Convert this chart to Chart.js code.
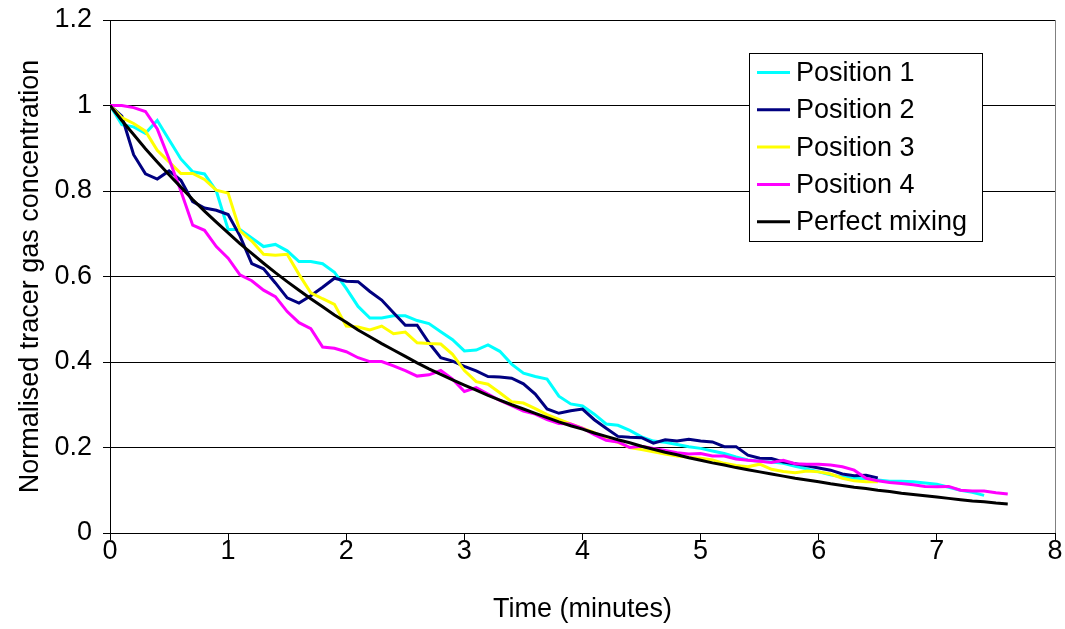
<!DOCTYPE html>
<html>
<head>
<meta charset="utf-8">
<script src="https://cdn.jsdelivr.net/npm/chart.js@4.4.1/dist/chart.umd.min.js"></script>
<style>
    html, body { margin: 0; padding: 0; background: #fff; }
    #wrap { width: 1065px; height: 629px; }
</style>
</head>
<body>
<div id="wrap"><canvas id="decayChart" width="1065" height="629"></canvas></div>
<script>
// Tracer gas decay - normalised concentration vs time

// sample times (minutes)
const times = [0, 0.1, 0.2, 0.3, 0.4, 0.5, 0.6, 0.7, 0.8, 0.9,
    1.0, 1.1, 1.2, 1.3, 1.4, 1.5, 1.6, 1.7, 1.8, 1.9,
    2.0, 2.1, 2.2, 2.3, 2.4, 2.5, 2.6, 2.7, 2.8, 2.9,
    3.0, 3.1, 3.2, 3.3, 3.4, 3.5, 3.6, 3.7, 3.8, 3.9,
    4.0, 4.1, 4.2, 4.3, 4.4, 4.5, 4.6, 4.7, 4.8, 4.9,
    5.0, 5.1, 5.2, 5.3, 5.4, 5.5, 5.6, 5.7, 5.8, 5.9,
    6.0, 6.1, 6.2, 6.3, 6.4, 6.5, 6.6, 6.7, 6.8, 6.9,
    7.0, 7.1, 7.2, 7.3, 7.4, 7.5, 7.6];

const position1 = [1.0, 0.955, 0.95, 0.935, 0.965, 0.92, 0.875, 0.845, 0.84, 0.80,
    0.71, 0.71, 0.69, 0.67, 0.675, 0.66, 0.635, 0.635, 0.63, 0.61,
    0.572, 0.53, 0.503, 0.503, 0.508, 0.508, 0.497, 0.49, 0.471, 0.452,
    0.426, 0.428, 0.44, 0.425, 0.395, 0.374, 0.366, 0.36, 0.32, 0.302,
    0.297, 0.278, 0.255, 0.252, 0.24, 0.225, 0.215, 0.212, 0.207, 0.202,
    0.198, 0.192, 0.186, 0.178, 0.171, 0.168, 0.166, 0.163, 0.156, 0.15,
    0.143, 0.136, 0.131, 0.128, 0.127, 0.124, 0.121, 0.121, 0.12, 0.117,
    0.114, 0.107, 0.10, 0.095, 0.088];

const position2 = [1.0, 0.975, 0.885, 0.84, 0.828, 0.847, 0.825, 0.775, 0.76, 0.755,
    0.745, 0.695, 0.63, 0.618, 0.585, 0.55, 0.538, 0.555, 0.575, 0.596,
    0.589, 0.588, 0.565, 0.545, 0.515, 0.486, 0.486, 0.445, 0.41, 0.402,
    0.39, 0.379, 0.366, 0.365, 0.362, 0.349, 0.325, 0.29, 0.28, 0.286,
    0.29, 0.265, 0.245, 0.226, 0.224, 0.223, 0.21, 0.218, 0.215, 0.219,
    0.215, 0.213, 0.202, 0.202, 0.182, 0.175, 0.174, 0.166, 0.162, 0.157,
    0.152, 0.147, 0.138, 0.134, 0.135, 0.129];

const position3 = [1.0, 0.972, 0.958, 0.94, 0.895, 0.868, 0.841, 0.841, 0.827, 0.802,
    0.795, 0.707, 0.683, 0.652, 0.65, 0.652, 0.605, 0.562, 0.548, 0.535,
    0.484, 0.482, 0.475, 0.484, 0.466, 0.47, 0.445, 0.443, 0.442, 0.418,
    0.38, 0.354, 0.348, 0.328, 0.307, 0.304, 0.291, 0.277, 0.266, 0.255,
    0.245, 0.235, 0.219, 0.212, 0.2, 0.195, 0.19, 0.185, 0.18, 0.177,
    0.175, 0.171, 0.163, 0.158, 0.155, 0.161, 0.149, 0.144, 0.141, 0.145,
    0.143, 0.138, 0.128, 0.122, 0.12, 0.12];

const position4 = [1.0, 1.0, 0.995, 0.986, 0.945, 0.875, 0.8, 0.72, 0.708, 0.67,
    0.643, 0.604, 0.59, 0.568, 0.553, 0.518, 0.492, 0.478, 0.435, 0.432,
    0.424, 0.41, 0.401, 0.401, 0.391, 0.38, 0.367, 0.37, 0.38, 0.36,
    0.331, 0.34, 0.325, 0.31, 0.298, 0.285, 0.278, 0.265, 0.256, 0.255,
    0.245, 0.23, 0.217, 0.213, 0.2, 0.203, 0.198, 0.193, 0.188, 0.185,
    0.186, 0.18, 0.18, 0.173, 0.17, 0.168, 0.165, 0.17, 0.162, 0.161,
    0.161, 0.159, 0.155, 0.147, 0.128, 0.122, 0.118, 0.116, 0.113, 0.109,
    0.108, 0.109, 0.1, 0.098, 0.098, 0.094, 0.091];

// theoretical curve
const perfectMixing = [1.0, 0.965, 0.932, 0.899, 0.868, 0.838, 0.809, 0.780, 0.753, 0.727,
    0.702, 0.677, 0.654, 0.631, 0.609, 0.588, 0.568, 0.548, 0.529, 0.510,
    0.493, 0.475, 0.459, 0.443, 0.428, 0.413, 0.398, 0.384, 0.371, 0.358,
    0.346, 0.334, 0.322, 0.311, 0.300, 0.290, 0.280, 0.270, 0.260, 0.251,
    0.243, 0.234, 0.226, 0.218, 0.211, 0.203, 0.196, 0.189, 0.183, 0.176,
    0.170, 0.164, 0.159, 0.153, 0.148, 0.143, 0.138, 0.133, 0.128, 0.124,
    0.120, 0.115, 0.111, 0.107, 0.104, 0.100, 0.097, 0.093, 0.090, 0.087,
    0.084, 0.081, 0.078, 0.075, 0.073, 0.070, 0.068];

const seriesNames = ['Position 1', 'Position 2', 'Position 3', 'Position 4', 'Perfect mixing'];
const seriesColors = ['#00ffff', '#000080', '#ffff00', '#ff00ff', '#000000'];
const yTickLabels = ['0', '0.2', '0.4', '0.6', '0.8', '1', '1.2'];
const xTickLabels = ['0', '1', '2', '3', '4', '5', '6', '7', '8'];

const FONT = 'Liberation Sans, Arial, sans-serif';

function toPoints(values) {
    return values.map((v, i) => ({ x: times[i], y: v }));
}

// Legend box inside the plot, Excel style
const boxLegend = {
    id: 'boxLegend',
    afterDraw(chart) {
        const ctx = chart.ctx;
        const left = 749, top = 53, w = 233, h = 188;
        ctx.save();
        ctx.fillStyle = '#fff';
        ctx.fillRect(left, top, w, h);
        ctx.strokeStyle = '#000';
        ctx.lineWidth = 1;
        ctx.strokeRect(left + 0.5, top + 0.5, w, h);
        ctx.font = '27px ' + FONT;
        ctx.textBaseline = 'middle';
        seriesNames.forEach((name, i) => {
            const y = 72.5 + i * 37.3;
            ctx.strokeStyle = seriesColors[i];
            ctx.lineWidth = 3;
            ctx.beginPath();
            ctx.moveTo(757, y);
            ctx.lineTo(790, y);
            ctx.stroke();
            ctx.fillStyle = '#000';
            ctx.fillText(name, 796, y + 1);
        });
        ctx.restore();
    }
};

// right edge of the plot area
const plotFrame = {
    id: 'plotFrame',
    beforeDatasetsDraw(chart) {
        const a = chart.chartArea;
        const ctx = chart.ctx;
        ctx.save();
        ctx.strokeStyle = '#808080';
        ctx.lineWidth = 1;
        ctx.beginPath();
        ctx.moveTo(Math.round(a.right) + 0.5, a.top);
        ctx.lineTo(Math.round(a.right) + 0.5, a.bottom);
        ctx.stroke();
        ctx.restore();
    }
};

const datasets = [position1, position2, position3, position4, perfectMixing].map((vals, i) => ({
    label: seriesNames[i],
    data: toPoints(vals),
    borderColor: seriesColors[i],
    backgroundColor: seriesColors[i],
    borderWidth: 3,
    pointRadius: 0,
    tension: 0,
    fill: false,
    order: i === 4 ? 0 : 4 - i + 1
}));

new Chart(document.getElementById('decayChart').getContext('2d'), {
    type: 'line',
    data: { datasets: datasets },
    options: {
        responsive: false,
        animation: false,
        layout: { padding: { top: 20, right: 10, left: 0, bottom: 0 } },
        plugins: { legend: { display: false }, tooltip: { enabled: false } },
        scales: {
            x: {
                type: 'linear',
                min: 0,
                max: 8,
                afterFit(scale) {
                    scale.height = 96;
                    scale.paddingLeft = 0;
                    scale.paddingRight = 0;
                },
                ticks: {
                    stepSize: 1,
                    color: '#000',
                    font: { family: FONT, size: 27, lineHeight: 1 },
                    padding: -2,
                    maxRotation: 0,
                    callback: (v) => xTickLabels[v]
                },
                grid: { drawOnChartArea: false, color: '#000', tickLength: 7 },
                border: { color: '#000', width: 1 },
                title: {
                    display: true,
                    text: 'Time (minutes)',
                    color: '#000',
                    font: { family: FONT, size: 27 },
                    padding: { top: 0, bottom: 3 }
                }
            },
            y: {
                min: 0,
                max: 1.2,
                afterFit(scale) {
                    scale.width = 110;
                    scale.paddingTop = 0;
                    scale.paddingBottom = 0;
                },
                ticks: {
                    stepSize: 0.2,
                    color: '#000',
                    font: { family: FONT, size: 27 },
                    padding: 11,
                    callback: (v) => yTickLabels[Math.round(v / 0.2)]
                },
                grid: { color: '#000', lineWidth: 1, tickLength: 7 },
                border: { color: '#000', width: 1 },
                title: {
                    display: true,
                    text: 'Normalised tracer gas concentration',
                    color: '#000',
                    font: { family: FONT, size: 27 },
                    padding: { top: 14, bottom: 0 }
                }
            }
        }
    },
    plugins: [plotFrame, boxLegend]
});
</script>
</body>
</html>
